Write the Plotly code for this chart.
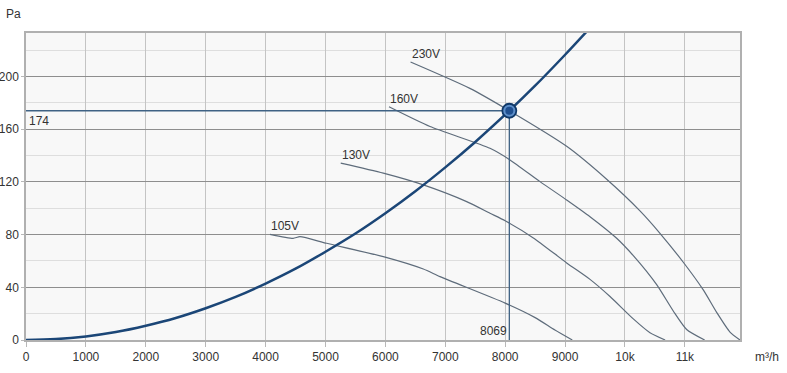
import plotly.graph_objects as go

# ---- data ----
sys_q = [0, 500, 1000, 1500, 2000, 2500, 3000, 3500, 4000, 4500, 5000, 5500, 6000, 6500, 7000, 7500, 8069, 8500, 9000, 9500]
sys_p = [0, 0.7, 2.7, 6.0, 10.8, 16.7, 24.1, 32.7, 42.8, 54.1, 67.0, 80.8, 96.2, 112.9, 131.0, 150.3, 174.0, 193.0, 216.5, 241.0]

v230_q = [6420, 7410, 8069, 9026, 9694, 10250, 10584, 10973, 11307, 11530, 11753, 11920]
v230_p = [211, 191, 174, 147, 122, 98, 81, 59, 38, 21, 6, 0]

v160_q = [6060, 6745, 7746, 8080, 8581, 9026, 9416, 9861, 10139, 10529, 10806, 11029, 11330]
v160_p = [177, 162, 145.5, 136.7, 120.2, 106.3, 93.6, 77.2, 64, 42, 22, 8, 0]

v130_q = [5254, 5965, 6633, 7357, 7746, 8000, 8470, 9026, 9416, 9750, 10139, 10417, 10670]
v130_p = [134.2, 126.6, 117.7, 105, 96.2, 90.5, 77.5, 58.5, 46, 33, 16, 5.5, 0]

v105_q = [4073, 4460, 4574, 5020, 5965, 6633, 6912, 8000, 8500, 8830, 9120]
v105_p = [80.2, 77.2, 78.4, 73.4, 63.3, 53.9, 48.1, 28, 17, 7.6, 0]

curve_names = ["230V", "160V", "130V", "105V"]

op_q = 8069
op_p = 174

x_tickvals = [0, 1000, 2000, 3000, 4000, 5000, 6000, 7000, 8000, 9000, 10000, 11000]
x_ticktext = ["0", "1000", "2000", "3000", "4000", "5000", "6000", "7000", "8000", "9000", "10k", "11k"]
y_tickvals = [0, 40, 80, 120, 160, 200]

FONT = "Liberation Sans, Arial, sans-serif"
FAN_COLOR = "#5e6c7b"
SYS_COLOR = "#1b4677"
REF_COLOR = "#3f6284"

fig = go.Figure()

curves = [(v230_q, v230_p), (v160_q, v160_p), (v130_q, v130_p), (v105_q, v105_p)]
for (q, p), name in zip(curves, curve_names):
    fig.add_trace(go.Scatter(x=q, y=p, mode="lines", name=name,
                             line=dict(color=FAN_COLOR, width=1.2, shape="spline", smoothing=0.6),
                             hoverinfo="x+y"))
    fig.add_annotation(x=q[0], y=p[0], text=name, showarrow=False,
                       xanchor="left", yanchor="bottom", xshift=-1, yshift=-1,
                       font=dict(family=FONT, size=12, color="#333333"))

# reference lines to operating point
fig.add_trace(go.Scatter(x=[0, op_q], y=[op_p, op_p], mode="lines",
                         line=dict(color=REF_COLOR, width=1.3), hoverinfo="skip"))
fig.add_trace(go.Scatter(x=[op_q, op_q], y=[op_p, 0], mode="lines",
                         line=dict(color=REF_COLOR, width=1.3), hoverinfo="skip"))

# system curve
fig.add_trace(go.Scatter(x=sys_q, y=sys_p, mode="lines",
                         line=dict(color=SYS_COLOR, width=2.5, shape="spline"),
                         hoverinfo="x+y"))

# operating point marker
fig.add_trace(go.Scatter(x=[op_q], y=[op_p], mode="markers",
                         marker=dict(size=14, color="#5d8ec9", line=dict(color="#0f3868", width=1.8)),
                         hoverinfo="x+y"))
fig.add_trace(go.Scatter(x=[op_q], y=[op_p], mode="markers",
                         marker=dict(size=8, color="#1f4f8f", line=dict(width=0)),
                         hoverinfo="skip"))

fig.add_annotation(x=0, y=op_p, text=str(op_p), showarrow=False,
                   xanchor="left", yanchor="top", xshift=1, yshift=-1,
                   font=dict(family=FONT, size=12, color="#333333"))
fig.add_annotation(x=op_q, y=0, text=str(op_q), showarrow=False,
                   xanchor="right", yanchor="bottom", xshift=0, yshift=0,
                   font=dict(family=FONT, size=12, color="#333333"))

fig.add_annotation(xref="paper", yref="paper", x=0, y=1.0, xshift=-22, yshift=19,
                   text="Pa", showarrow=False, xanchor="left", yanchor="middle",
                   font=dict(family=FONT, size=12, color="#333333"))
fig.add_annotation(xref="paper", yref="paper", x=1.0, y=0, xshift=41, yshift=-17,
                   text="m³/h", showarrow=False, xanchor="right", yanchor="middle",
                   font=dict(family=FONT, size=12, color="#333333"))

fig.update_layout(
    width=787, height=373,
    margin=dict(l=26, r=47, t=33, b=33, autoexpand=False),
    paper_bgcolor="white",
    plot_bgcolor="#f8f8f8",
    showlegend=False,
    font=dict(family=FONT, size=12, color="#333333"),
    xaxis=dict(range=[0, 11920], tickvals=x_tickvals, ticktext=x_ticktext, automargin=False,
               showgrid=True, gridcolor="#c4c4c4", gridwidth=1.2,
               zeroline=False, showline=True, linecolor="#b0b0b0", linewidth=1.5, mirror=True,
               ticks="outside", ticklen=5, tickcolor="#b8b8b8",
               tickfont=dict(family=FONT, size=12, color="#333333")),
    yaxis=dict(range=[0, 233], tickvals=y_tickvals, automargin=False,
               showgrid=True, gridcolor="#8e8e8e", gridwidth=1,
               zeroline=False, showline=True, linecolor="#b0b0b0", linewidth=1.5, mirror=True,
               ticks="outside", ticklen=3, tickcolor="#b8b8b8",
               minor=dict(tick0=0, dtick=20, showgrid=True, gridcolor="#dedede", gridwidth=1, ticks=""),
               tickfont=dict(family=FONT, size=12, color="#333333")),
)

# remove the page's default 8px body margin so the figure sits at the window's corner
fig.write_html("out.html", config={"displayModeBar": False},
               post_script="document.body.style.margin='0';")
